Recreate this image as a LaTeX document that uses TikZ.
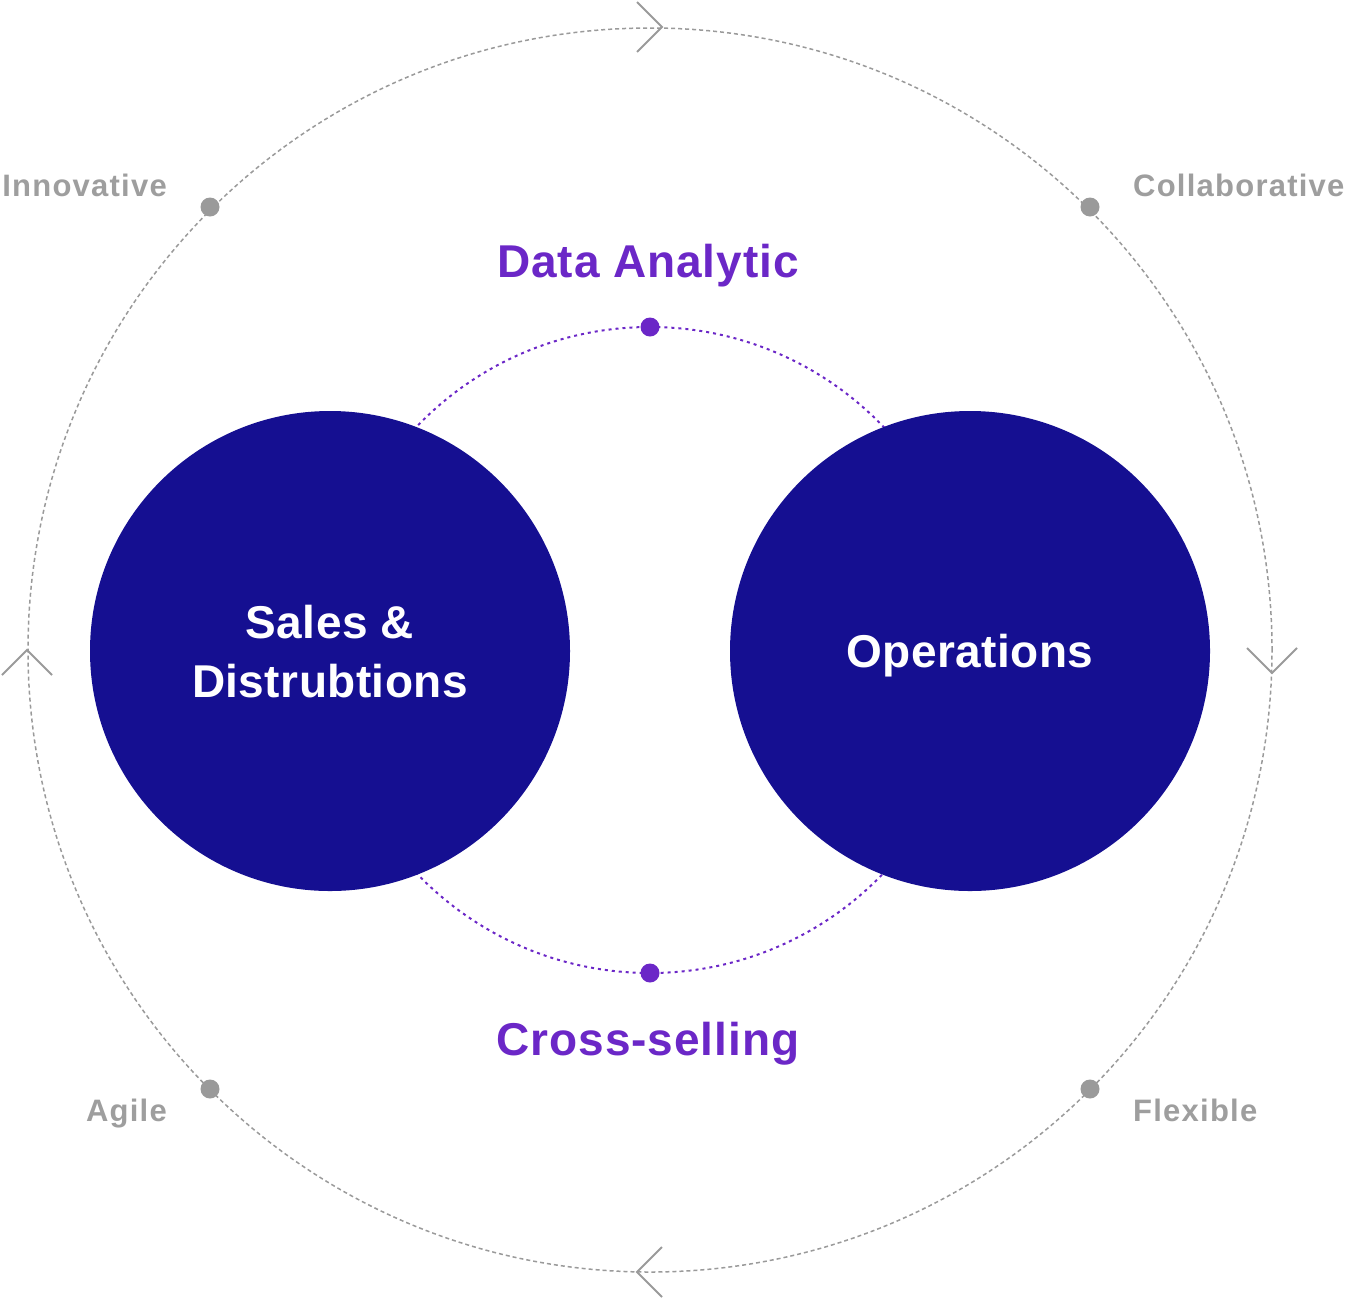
\documentclass[tikz,border=0pt]{standalone}
\usepackage{fontspec}
\setmainfont{Liberation Sans}
\definecolor{discNavy}{HTML}{150F91}
\definecolor{ringPurple}{HTML}{6B27C7}
\definecolor{ringGray}{HTML}{9A9A9A}
\definecolor{labelGray}{HTML}{9E9E9E}
\tikzset{
  outerring/.style={draw=ringGray,line width=1.5pt,dash pattern=on 4pt off 3pt},
  innerring/.style={draw=ringPurple,line width=2pt,dash pattern=on 3pt off 4pt},
  chevron/.style={draw=ringGray,line width=2pt},
  disc/.style={circle,fill=discNavy,text=white,minimum size=480pt,inner sep=0pt,align=center,
    text depth=0pt,font=\bfseries\fontsize{46}{59}\selectfont\addfontfeature{LetterSpace=1}},
  gdot/.style={circle,fill=ringGray,minimum size=19pt,inner sep=0pt},
  pdot/.style={circle,fill=ringPurple,minimum size=19pt,inner sep=0pt},
  glabel/.style={text=labelGray,inner sep=0pt,font=\bfseries\fontsize{31}{36}\selectfont\addfontfeature{LetterSpace=4}},
  plabel/.style={text=ringPurple,inner sep=0pt,anchor=base,font=\bfseries\fontsize{46}{56}\selectfont\addfontfeature{LetterSpace=2}}
}
\begin{document}
\begin{tikzpicture}[x=1pt,y=-1pt]
  \useasboundingbox (0,0) rectangle (1346,1299);
  \coordinate (hub) at (650,650);
  % rings
  \draw[outerring] (hub) circle (622pt);
  \draw[innerring] (hub) circle (323pt);
  % direction marks on the outer ring
  \foreach \x/\y/\u/\v in {662/27/1/0, 1272/673/0/1, 637/1272/-1/0, 27/650/0/-1}
    \draw[chevron] ({\x-25*\u+25*\v},{\y-25*\v-25*\u}) -- (\x,\y) -- ({\x-25*\u-25*\v},{\y-25*\v+25*\u});
  % dots
  \node[gdot] (dInno) at (210,207) {};
  \node[gdot] (dColl) at (1090,207) {};
  \node[gdot] (dAgile) at (210,1089) {};
  \node[gdot] (dFlex) at (1090,1089) {};
  \node[pdot] (dTop) at (650,327) {};
  \node[pdot] (dBot) at (650,973) {};
  % discs
  \node[disc] (sales) at (330,651) {Sales \&\\Distrubtions};
  \node[disc] (ops) at (970,651) {Operations};
  % labels
  \node[plabel] (analytic) at (648,277) {Data Analytic};
  \node[plabel] (crossSell) at (648,1055) {Cross-selling};
  \node[glabel,anchor=base east] (lInno) at (167,196) {Innovative};
  \node[glabel,anchor=base west] (lColl) at (1133,196) {Collaborative};
  \node[glabel,anchor=base east] (lAgile) at (167,1121) {Agile};
  \node[glabel,anchor=base west] (lFlex) at (1133,1121) {Flexible};
\end{tikzpicture}
\end{document}
